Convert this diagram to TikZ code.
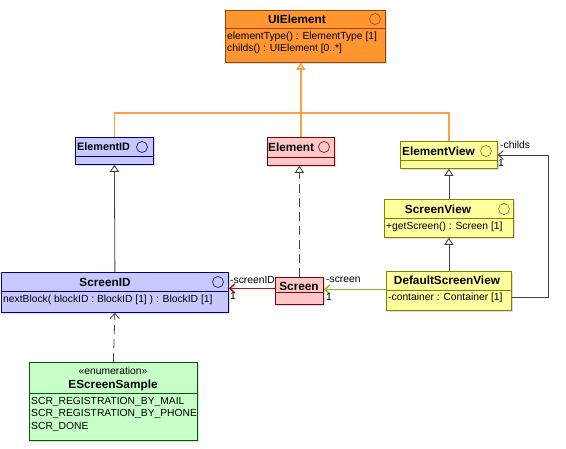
\documentclass[tikz,border=0pt]{standalone}
\usepackage{fontspec}
\setmainfont{Liberation Sans}
\usetikzlibrary{arrows.meta,shadows}

\definecolor{uifill}{RGB}{255,150,50}
\definecolor{uiline}{RGB}{150,70,0}
\definecolor{bluefill}{RGB}{200,200,255}
\definecolor{blueline}{RGB}{0,0,130}
\definecolor{redfill}{RGB}{255,200,200}
\definecolor{redline}{RGB}{130,0,0}
\definecolor{yelfill}{RGB}{255,255,160}
\definecolor{yelline}{RGB}{130,130,0}
\definecolor{grnfill}{RGB}{200,255,200}
\definecolor{grnline}{RGB}{0,90,0}
\definecolor{genorange}{RGB}{255,160,70}
\definecolor{assocred}{RGB}{170,20,20}
\definecolor{assocolive}{RGB}{160,170,30}

\tikzset{
  classbox/.style={draw, line width=0.8pt, anchor=north west, inner sep=0pt,
    drop shadow={shadow xshift=2pt, shadow yshift=-2pt, fill=black!25}},
  title/.style={font=\fontsize{11.8}{14}\selectfont\bfseries, inner sep=0pt},
  member/.style={anchor=west, inner sep=0pt},
  iface/.style={draw, line width=0.6pt, circle, inner sep=0pt, minimum size=11pt},
  genline/.style={line width=0.8pt, -{Triangle[open, length=7pt, width=9pt]}},
  useline/.style={line width=0.8pt, -{Straight Barb[length=5pt, width=9pt]}},
  rolelabel/.style={anchor=west, inner sep=0pt}
}

\begin{document}
\begin{tikzpicture}[x=1pt, y=-1pt, font=\fontsize{10.3}{12}\selectfont]
\useasboundingbox[fill=white] (0,0) rectangle (566,449);

% UIElement
\node[classbox, draw=uiline, fill=uifill, minimum width=160pt, minimum height=52pt] (uielement) at (225,10) {};
\draw[uiline, line width=0.8pt] (225,28) -- (385,28);
\node[title] (uititle) at (297,19) {UIElement};
\node[iface, draw=uiline] (uicirc) at (375,19) {};
\node[member] (uim1) at (227,37) {elementType() : ElementType [1]};
\node[member] (uim2) at (227,49) {childs() : UIElement [0..*]};

% ElementID
\node[classbox, draw=blueline, fill=bluefill, minimum width=78pt, minimum height=27pt] (elementid) at (75,137) {};
\draw[blueline, line width=0.8pt] (75,156) -- (153,156);
\node[title, anchor=west, font=\fontsize{10.8}{13}\selectfont\bfseries] (eidtitle) at (77,147) {ElementID};
\node[iface, draw=blueline] (eidcirc) at (142,147) {};

% Element
\node[classbox, draw=redline, fill=redfill, minimum width=67pt, minimum height=28pt] (element) at (267,137) {};
\draw[redline, line width=0.8pt] (267,157) -- (334,157);
\node[title, anchor=west] (eltitle) at (268,147) {Element};
\node[iface, draw=redline] (elcirc) at (324,147) {};

% ElementView
\node[classbox, draw=yelline, fill=yelfill, minimum width=97pt, minimum height=27pt] (elementview) at (400,141) {};
\draw[yelline, line width=0.8pt] (400,160) -- (497,160);
\node[title, anchor=west] (evtitle) at (402,151) {ElementView};
\node[iface, draw=yelline] (evcirc) at (486,151) {};

% ScreenView
\node[classbox, draw=yelline, fill=yelfill, minimum width=129pt, minimum height=38pt] (screenview) at (384,199) {};
\draw[yelline, line width=0.8pt] (384,218) -- (513,218);
\node[title] (svtitle) at (438,209) {ScreenView};
\node[iface, draw=yelline] (svcirc) at (504,209) {};
\node[member] (svm1) at (386,227) {+getScreen() : Screen [1]};

% ScreenID
\node[classbox, draw=blueline, fill=bluefill, minimum width=227pt, minimum height=40pt] (screenid) at (1,272) {};
\draw[blueline, line width=0.8pt] (1,291) -- (228,291);
\node[title] (sidtitle) at (105,282) {ScreenID};
\node[iface, draw=blueline] (sidcirc) at (218,282) {};
\node[member] (sidm1) at (3,300) {nextBlock( blockID : BlockID [1] ) : BlockID [1]};

% Screen
\node[classbox, draw=redline, fill=redfill, minimum width=48pt, minimum height=27pt] (screen) at (275,277) {};
\draw[redline, line width=0.8pt] (275,292) -- (323,292);
\node[title] (scrtitle) at (299,286) {Screen};

% DefaultScreenView
\node[classbox, draw=yelline, fill=yelfill, minimum width=125pt, minimum height=39pt] (dsv) at (386,271) {};
\draw[yelline, line width=0.8pt] (386,290) -- (511,290);
\node[title] (dsvtitle) at (447,280) {DefaultScreenView};
\node[member] (dsvm1) at (388,298) {-container : Container [1]};

% EScreenSample
\node[classbox, draw=grnline, fill=grnfill, minimum width=168pt, minimum height=78pt] (escreen) at (29,362) {};
\draw[grnline, line width=0.8pt] (29,393) -- (197,393);
\node[inner sep=0pt] (esstereo) at (113,371) {«enumeration»};
\node[title] (estitle) at (113,385) {EScreenSample};
\node[member] (esm1) at (31,402) {SCR\_REGISTRATION\_BY\_MAIL};
\node[member] (esm2) at (31,414) {SCR\_REGISTRATION\_BY\_PHONE};
\node[member] (esm3) at (31,427) {SCR\_DONE};

% Generalisierung UIElement
\coordinate (hub) at (299,113);
\draw[genorange, line width=1.6pt] (elementid.north) |- (hub) -| (elementview.north);
\draw[genorange, genline, line width=1.6pt] (element.north) -- (element.north |- uielement.south);

% Vererbung
\draw[black!75, genline] (screenid.north) -- (elementid.south);
\draw[black!75, genline, dash pattern=on 9pt off 5pt] (screen.north) -- (screen.north |- element.south);
\draw[black!75, genline] (screenview.north) -- (elementview.south);
\draw[black!75, genline] (dsv.north) -- (screenview.south);
\draw[black!75, useline, dash pattern=on 9pt off 5pt] (escreen.north) -- (screenid.south);

% Assoziationen
\draw[assocred, useline, line width=1.4pt] ([yshift=2.5pt]screen.west) -- ([yshift=2.5pt]screen.west -| screenid.east);
\node[rolelabel] (lscreenid) at (230,280) {-screenID};
\node[rolelabel] (lscreenid1) at (230,296) {1};
\draw[assocolive, useline, line width=1.4pt] ([yshift=1.5pt]dsv.west) -- ([yshift=1.5pt]dsv.west -| screen.east);
\node[rolelabel] (lscreen) at (326,280) {-screen};
\node[rolelabel] (lscreen1) at (326,297) {1};
\coordinate (loop) at (548,155);
\draw[black!75, useline] ([yshift=-6.5pt]dsv.east) -| (loop) -- (loop -| elementview.east);
\node[rolelabel] (lchilds) at (500,145) {-childs};
\node[rolelabel] (lchilds1) at (498,163) {1};

\end{tikzpicture}
\end{document}
